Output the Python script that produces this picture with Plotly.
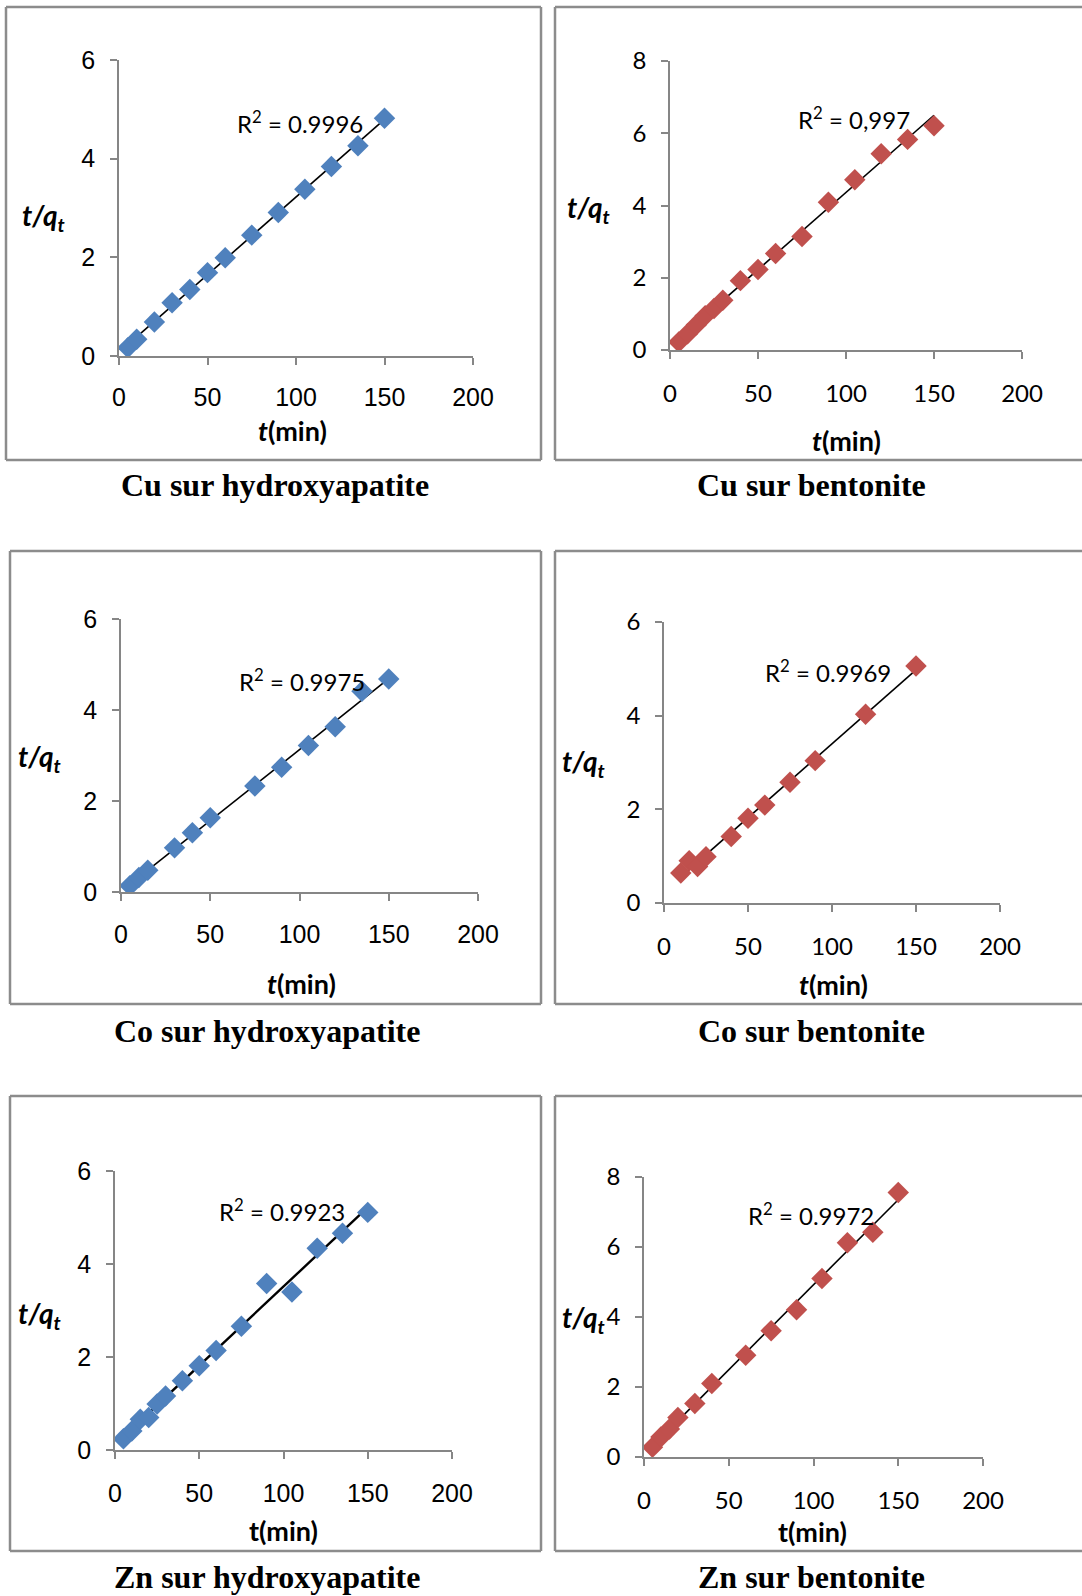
import numpy as np
import plotly.graph_objects as go

W, H = 1082, 1596

# ---------------- data ----------------
t_cu_hap = [5, 10, 20, 30, 40, 50, 60, 75, 90, 105, 120, 135, 150]
q_cu_hap = [0.17, 0.34, 0.69, 1.08, 1.35, 1.69, 1.99, 2.45, 2.91, 3.38, 3.84, 4.26, 4.82]

t_cu_ben = [5, 10, 15, 20, 25, 30, 40, 50, 60, 75, 90, 105, 120, 135, 150]
q_cu_ben = [0.22, 0.45, 0.70, 0.95, 1.15, 1.38, 1.92, 2.23, 2.67, 3.14, 4.09, 4.71, 5.43, 5.83, 6.21]

t_co_hap = [5, 10, 15, 30, 40, 50, 75, 90, 105, 120, 135, 150]
q_co_hap = [0.14, 0.32, 0.48, 0.97, 1.30, 1.63, 2.33, 2.74, 3.22, 3.63, 4.41, 4.68]

t_co_ben = [10, 15, 20, 25, 40, 50, 60, 75, 90, 120, 150]
q_co_ben = [0.64, 0.90, 0.78, 0.99, 1.42, 1.81, 2.09, 2.58, 3.04, 4.03, 5.06]

t_zn_hap = [5, 10, 15, 20, 25, 30, 40, 50, 60, 75, 90, 105, 120, 135, 150]
q_zn_hap = [0.24, 0.41, 0.66, 0.70, 0.99, 1.16, 1.49, 1.81, 2.14, 2.66, 3.58, 3.40, 4.34, 4.66, 5.11]

t_zn_ben = [5, 10, 15, 20, 30, 40, 60, 75, 90, 105, 120, 135, 150]
q_zn_ben = [0.28, 0.57, 0.80, 1.13, 1.53, 2.10, 2.91, 3.61, 4.21, 5.10, 6.12, 6.42, 7.56]

captions = ["Cu sur hydroxyapatite", "Cu sur bentonite",
            "Co sur hydroxyapatite", "Co sur bentonite",
            "Zn sur hydroxyapatite", "Zn sur bentonite"]
r2_values = ["0.9996", "0,997", "0.9975", "0.9969", "0.9923", "0.9972"]
r2_pos = [(102, 4.74), (104.6, 6.41), (101.2, 4.67), (97.9, 4.96), (99, 5.16), (98.8, 6.94)]
y_max = [6, 8, 6, 6, 6, 8]
x_ticks = [0, 50, 100, 150, 200]

series = [(t_cu_hap, q_cu_hap), (t_cu_ben, q_cu_ben), (t_co_hap, q_co_hap),
          (t_co_ben, q_co_ben), (t_zn_hap, q_zn_hap), (t_zn_ben, q_zn_ben)]

BLUE, RED = "#4F81BD", "#C0504D"
colors = [BLUE, RED, BLUE, RED, BLUE, RED]

# ---------------- layout (pixels) ----------------
# plot area: x0, x1, y_top, y_bottom
areas = [(119, 473, 60, 356), (670, 1022, 61, 350),
         (121, 478, 619, 892), (664, 1000, 622, 903),
         (115, 452, 1171, 1450), (644, 983, 1177, 1457)]
# frame: left, top, right (None = open at page edge), bottom
frames = [(6, 7, 541, 460), (555, 7, None, 460),
          (10, 551, 541, 1004), (555, 551, None, 1004),
          (10, 1096, 541, 1551), (555, 1096, None, 1551)]
caption_pos = [(275, 485), (811, 485), (267, 1031), (811, 1031), (267, 1577), (811, 1577)]
xtitle_pos = [(292, 430), (846, 440), (301, 983), (833, 985), (283, 1530), (812, 1531)]
ytitle_pos = [(43, 217), (588, 209), (39, 758), (583, 763), (39, 1315), (583, 1319)]
xtitle_txt = ["<b><i>t</i>(min)</b>"] * 4 + ["<b>t(min)</b>"] * 2
tick_fonts = ["Liberation Sans", "Lato", "Liberation Sans", "Lato", "Liberation Sans", "Lato"]
tick_sizes = [25, 24, 25, 24, 25, 24]
x_standoff = [11, 14, 12, 14, 13, 14]


def px(x):
    return x / W


def py(y):
    return 1 - y / H


fig = go.Figure()
layout = dict(width=W, height=H, margin=dict(l=0, r=0, t=0, b=0, autoexpand=False),
              paper_bgcolor="white", plot_bgcolor="white", showlegend=False)
annotations = []
shapes = []
FRAME = dict(color="#8c8c8c", width=2.5)


def seg(x0, y0, x1, y1):
    shapes.append(dict(type="line", xref="paper", yref="paper",
                       x0=px(x0), y0=py(y0), x1=px(x1), y1=py(y1), line=FRAME))


for i, ((t, q), col) in enumerate(zip(series, colors)):
    n = i + 1
    xa = "x" if n == 1 else f"x{n}"
    ya = "y" if n == 1 else f"y{n}"
    t_arr = np.array(t, dtype=float)
    q_arr = np.array(q, dtype=float)
    slope, icpt = np.polyfit(t_arr, q_arr, 1)
    tx = np.array([t_arr.min(), t_arr.max()])
    fig.add_trace(go.Scatter(x=tx, y=slope * tx + icpt, mode="lines",
                             line=dict(color="black", width=2.4 if n == 5 else 1.6),
                             xaxis=xa, yaxis=ya, hoverinfo="skip"))
    fig.add_trace(go.Scatter(x=t, y=q, mode="markers",
                             marker=dict(symbol="diamond", size=16.5, color=col),
                             xaxis=xa, yaxis=ya))
    x0, x1, yt, yb = areas[i]
    axis_common = dict(showgrid=False, zeroline=False, showline=True,
                       linecolor="#868686", linewidth=1.5, ticks="outside",
                       ticklen=7, tickcolor="#868686", tickwidth=1.5,
                       tickfont=dict(family=tick_fonts[i], size=tick_sizes[i], color="black"),
                       fixedrange=True, automargin=False)
    layout["xaxis" if n == 1 else f"xaxis{n}"] = dict(
        axis_common, domain=[px(x0), px(x1)], range=[0, 200],
        tickvals=x_ticks, anchor=ya, ticklabelstandoff=x_standoff[i])
    layout["yaxis" if n == 1 else f"yaxis{n}"] = dict(
        axis_common, domain=[py(yb), py(yt)], range=[0, y_max[i]],
        dtick=2, anchor=xa, ticklabelstandoff=10)

    fl, ft, fr, fb = frames[i]
    seg(fl, ft, fl, fb)
    seg(fl, ft, fr if fr else W, ft)
    seg(fl, fb, fr if fr else W, fb)
    if fr:
        seg(fr, ft, fr, fb)

    cx, cy = caption_pos[i]
    annotations.append(dict(text=f"<b>{captions[i]}</b>", x=px(cx), y=py(cy),
                            xref="paper", yref="paper", showarrow=False,
                            xanchor="center", yanchor="middle",
                            font=dict(family="Liberation Serif", size=32, color="black")))
    tx_, ty_ = xtitle_pos[i]
    annotations.append(dict(text=xtitle_txt[i], x=px(tx_), y=py(ty_),
                            xref="paper", yref="paper", showarrow=False,
                            xanchor="center", yanchor="middle",
                            font=dict(family="Lato", size=27, color="black")))
    yx_, yy_ = ytitle_pos[i]
    annotations.append(dict(text="<b><i>t/q<sub>t</sub></i></b>", x=px(yx_), y=py(yy_),
                            xref="paper", yref="paper", showarrow=False,
                            xanchor="center", yanchor="middle",
                            font=dict(family="Lato", size=28, color="black")))
    rx, ry = r2_pos[i]
    annotations.append(dict(text=f"R<sup>2</sup> = {r2_values[i]}", x=rx, y=ry,
                            xref=xa, yref=ya,
                            showarrow=False, xanchor="center", yanchor="middle",
                            font=dict(family="Lato", size=24, color="black")))

layout["annotations"] = annotations
layout["shapes"] = shapes
fig.update_layout(**layout)
fig.write_html("out.html")
